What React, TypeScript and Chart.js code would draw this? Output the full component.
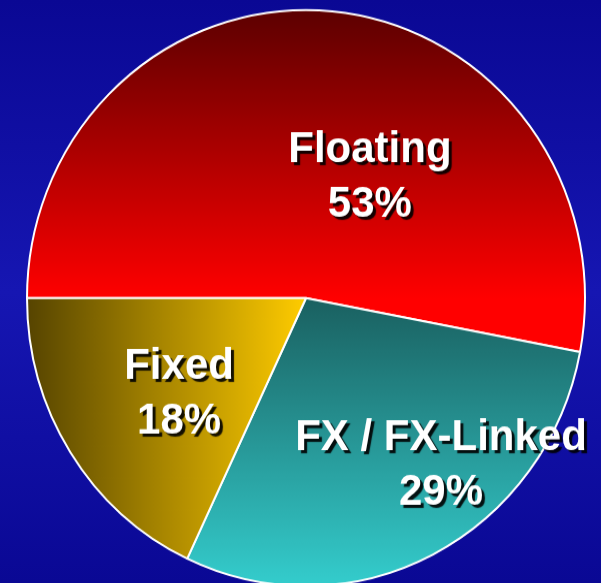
import React, { useEffect, useRef } from 'react';
import { Chart, registerables } from 'chart.js';

Chart.register(...registerables);

// Portfolio composition by interest-rate type
const categories = ['Floating', 'FX / FX-Linked', 'Fixed'];
const shares = [53, 29, 18];
const shareLabels = shares.map((v) => `${v}%`);

// Where each two-line label sits: first baseline, in radii from the pie centre
const labelAnchorX = [0.229, 0.484, -0.455];
const labelAnchorY = [-0.473, 0.528, 0.279];
const LINE_GAP = 0.191;

const W = 601;
const H = 583;
const CANVAS_H = 580;
const STRETCH = 1.0323; // the pie is drawn a touch taller than it is wide
const RADIUS = 279;

const sliceFill = (context: any) => {
  const chart = context.chart;
  const area = chart.chartArea;
  const i = context.dataIndex;
  const fallback = ['#c00000', '#2a9a9a', '#b09000'][i];
  if (!area) return fallback;
  const ctx = chart.ctx as CanvasRenderingContext2D;
  const cx = (area.left + area.right) / 2;
  const cy = (area.top + area.bottom) / 2;
  if (i === 0) {
    const g = ctx.createLinearGradient(0, cy - RADIUS, 0, cy);
    g.addColorStop(0, '#5c0000');
    g.addColorStop(1, '#ff0000');
    return g;
  }
  if (i === 1) {
    const g = ctx.createLinearGradient(0, cy, 0, cy + RADIUS);
    g.addColorStop(0, '#1a6060');
    g.addColorStop(1, '#34cdcd');
    return g;
  }
  const g = ctx.createLinearGradient(cx - RADIUS, 0, cx, 0);
  g.addColorStop(0, '#564400');
  g.addColorStop(1, '#ffcc00');
  return g;
};

const sliceLabels = {
  id: 'sliceLabels',
  afterDatasetsDraw(chart: any) {
    const meta = chart.getDatasetMeta(0);
    const first = meta.data[0];
    if (!first) return;
    const { x: cx, y: cy, outerRadius: r } = first.getProps(['x', 'y', 'outerRadius'], true);
    const ctx = chart.ctx as CanvasRenderingContext2D;
    ctx.save();
    ctx.font = 'bold 42px "Liberation Sans", Arial, sans-serif';
    ctx.textAlign = 'center';
    ctx.textBaseline = 'alphabetic';
    ctx.fillStyle = '#ffffff';
    ctx.shadowColor = 'rgba(0,0,0,0.9)';
    ctx.shadowOffsetX = 3;
    ctx.shadowOffsetY = 3;
    ctx.shadowBlur = 1;
    categories.forEach((name, i) => {
      const x = cx + labelAnchorX[i] * r;
      const y = cy + labelAnchorY[i] * r;
      ctx.fillText(name, x, y);
      ctx.fillText(shareLabels[i], x, y + LINE_GAP * r);
    });
    ctx.restore();
  },
};

export default function App() {
  const canvasRef = useRef<HTMLCanvasElement | null>(null);

  useEffect(() => {
    if (!canvasRef.current) return;
    const chart = new Chart(canvasRef.current, {
      type: 'pie',
      data: {
        labels: categories,
        datasets: [
          {
            data: shares,
            backgroundColor: sliceFill as any,
            borderColor: '#ffffff',
            borderWidth: 2,
            radius: RADIUS,
          } as any,
        ],
      },
      options: {
        responsive: false,
        animation: false,
        rotation: -90,
        layout: { padding: { left: 27, right: 16, top: 10, bottom: 12.6 } },
        plugins: {
          legend: { display: false },
          tooltip: { enabled: false },
        },
      },
      plugins: [sliceLabels],
    });
    return () => chart.destroy();
  }, []);

  return (
    <div
      style={{
        position: 'fixed',
        left: 0,
        top: 0,
        width: W,
        height: H,
        overflow: 'hidden',
        background: 'linear-gradient(to bottom, #0a0894 0%, #1616b2 50%, #0a0894 100%)',
      }}
    >
      <canvas
        ref={canvasRef}
        width={W}
        height={CANVAS_H}
        style={{ display: 'block', transform: `scaleY(${STRETCH})`, transformOrigin: '0 0' }}
      />
    </div>
  );
}
